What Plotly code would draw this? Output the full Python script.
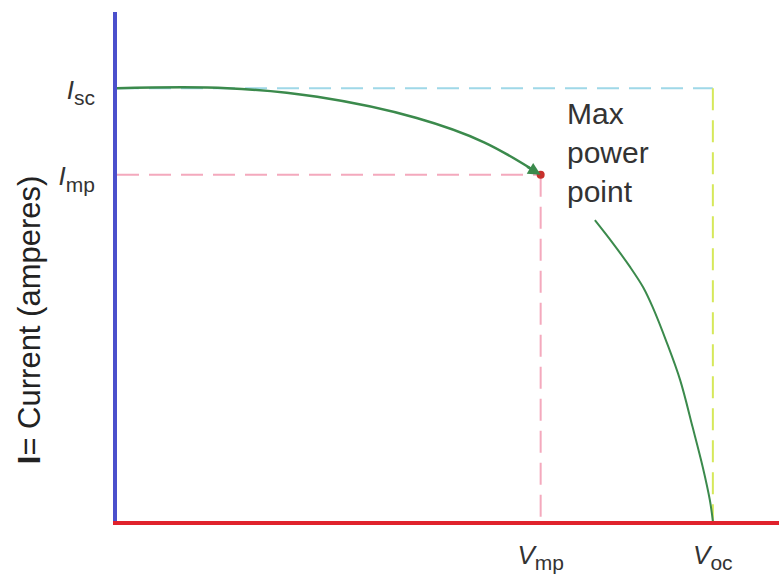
import plotly.graph_objects as go

# I-V curve of a solar cell (normalised units)
v_upper = [0.0, 0.185, 0.336, 0.503, 0.616, 0.711]
i_upper = [1.0, 1.0, 0.980, 0.931, 0.875, 0.800]
v_lower = [0.802, 0.832, 0.861, 0.883, 0.899, 0.923, 0.945, 0.966, 0.983, 0.995, 1.0]
i_lower = [0.695, 0.642, 0.587, 0.540, 0.494, 0.411, 0.326, 0.217, 0.125, 0.048, 0.0]

isc = 1.0
imp = 0.80
vmp = 0.711
voc = 1.0

lab = "<span style='font-size:26px'><i>%s</i></span><sub>%s</sub>"
y_ticks = [imp, isc]
y_ticktext = [lab % ("I", "mp"), lab % ("I", "sc")]
x_ticks = [vmp, voc]
x_ticktext = [lab % ("V", "mp"), lab % ("V", "oc")]

green = "#3b8a4c"
dash = "22px,10px"
font = "Liberation Sans, Arial"

fig = go.Figure()

# guide lines
fig.add_trace(go.Scatter(x=[0, voc], y=[isc, isc], mode="lines",
                         line=dict(color="#9fd8e8", width=2, dash=dash)))
fig.add_trace(go.Scatter(x=[voc, voc], y=[isc, 0], mode="lines",
                         line=dict(color="#d6e85a", width=2, dash=dash)))
fig.add_trace(go.Scatter(x=[0, vmp], y=[imp, imp], mode="lines",
                         line=dict(color="#f4a9bd", width=2, dash=dash)))
fig.add_trace(go.Scatter(x=[vmp, vmp], y=[imp, 0], mode="lines",
                         line=dict(color="#f4a9bd", width=2, dash=dash)))

# curve
fig.add_trace(go.Scatter(x=v_upper, y=i_upper, mode="lines",
                         line=dict(color=green, width=2.5, shape="spline")))
fig.add_trace(go.Scatter(x=v_lower, y=i_lower, mode="lines",
                         line=dict(color=green, width=2, shape="spline")))
fig.add_trace(go.Scatter(x=[vmp], y=[imp], mode="markers",
                         marker=dict(color="#c8302c", size=8)))

fig.add_annotation(x=vmp, y=imp, ax=-15, ay=-9, text="", showarrow=True,
                   arrowhead=2, arrowsize=1, arrowwidth=2.5, arrowcolor=green)

fig.add_annotation(x=0.752, y=0.984, xref="x", yref="y", xanchor="left",
                   yanchor="top", align="left", showarrow=False,
                   text="Max<br>power<br>point",
                   font=dict(family=font, size=30, color="#333"))

fig.add_annotation(x=-0.131, y=0.395, xref="paper", yref="paper",
                   xanchor="center", yanchor="middle",
                   textangle=-90, showarrow=False,
                   text="<b>I</b>= Current (amperes)",
                   font=dict(family=font, size=31, color="#222"))

fig.update_layout(
    width=779, height=578,
    margin=dict(l=117, r=0, t=12, b=57),
    plot_bgcolor="white", paper_bgcolor="white",
    showlegend=False,
    font=dict(family=font, size=26, color="#333"),
)
fig.update_xaxes(range=[0, 1.111], showgrid=False, zeroline=False,
                 showline=True, linecolor="#e0222c", linewidth=4,
                 tickvals=x_ticks, ticktext=x_ticktext, ticks="",
                 tickfont=dict(family=font, size=30, color="#333"),
                 ticklabelstandoff=3)
fig.update_yaxes(range=[0, 1.176], showgrid=False, zeroline=False,
                 showline=True, linecolor="#4b50cc", linewidth=4,
                 tickvals=y_ticks, ticktext=y_ticktext, ticks="",
                 tickfont=dict(family=font, size=30, color="#333"),
                 ticklabelstandoff=12)

fig.write_html("out.html", config={"displayModeBar": False},
               post_script="document.body.style.margin='0';")
